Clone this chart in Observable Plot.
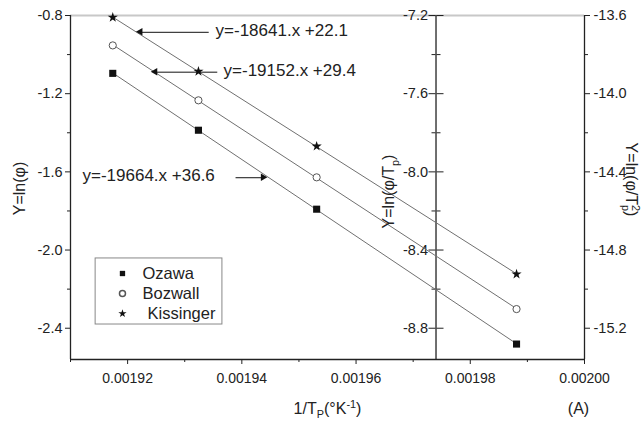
<!DOCTYPE html>
<html>
<head>
<meta charset="utf-8">
<script src="https://cdn.jsdelivr.net/npm/d3@7"></script>
<script src="https://cdn.jsdelivr.net/npm/@observablehq/plot@0.6"></script>
<style>
  html, body { margin: 0; padding: 0; background: #fff; }
  #chart { width: 643px; height: 421px; }
</style>
</head>
<body>
<div id="chart"></div>
<script>
// ---- data ----
const invTp      = [0.0019174, 0.0019324, 0.0019531, 0.0019881];   // 1/Tp (°K^-1)
const ozawa      = [-1.096, -1.387, -1.791, -2.481];              // ln(phi)          (left axis)
const bozwall    = [-7.353, -7.634, -8.028, -8.702];              // ln(phi/Tp)       (middle axis)
const kissinger  = [-13.610, -13.886, -14.269, -14.923];          // ln(phi/Tp^2)     (right axis)
const seriesNames = ["Ozawa", "Bozwall", "Kissinger"];

// axes
const xDomain = [0.00191, 0.00200];
const xMajor = [0.00192, 0.00194, 0.00196, 0.00198, 0.00200];
const xMinor = [0.00191, 0.00193, 0.00195, 0.00197, 0.00199];
const xMiddleAxis = 0.001974;
const yLeftDomain = [-2.56, -0.8];
const yMajor = [-0.8, -1.2, -1.6, -2.0, -2.4];
const yMinor = [-1.0, -1.4, -1.8, -2.2];
const midTop = -7.2;     // middle axis value at the top
const rightTop = -13.6;  // right axis value at the top

// annotations (fit equations)
const eqTexts = ["y=-18641.x +22.1", "y=-19152.x +29.4", "y=-19664.x +36.6"];
const eqX = [0.0019354, 0.0019368, 0.0019121];
const eqY = [-0.877, -1.081, -1.619];
const arrowFromX = [0.0019342, 0.0019357, 0.0019389];
const arrowToX   = [0.0019223, 0.0019249, 0.0019438];
const arrowY     = [-0.886, -1.090, -1.630];

// legend
const legendBox = {x1: 0.0019144, x2: 0.0019366, y1: -2.043, y2: -2.381};
const legendMarkX = 0.0019191;
const legendTextX = [0.0019226, 0.0019226, 0.0019235];
const legendY = [-2.120, -2.222, -2.325];

// ---- build table ----
const offMid = yMajor[0] - midTop;      // 6.4
const offRight = yMajor[0] - rightTop;  // 12.8
const rows = [];
invTp.forEach((x, i) => {
  rows.push({x, y: ozawa[i], s: seriesNames[0]});
  rows.push({x, y: bozwall[i] + offMid, s: seriesNames[1]});
  rows.push({x, y: kissinger[i] + offRight, s: seriesNames[2]});
});
const bySeries = n => rows.filter(r => r.s === n);
const eqs = eqTexts.map((t, i) => ({t, x: eqX[i], y: eqY[i], x1: arrowFromX[i], x2: arrowToX[i], ay: arrowY[i],
  rot: arrowToX[i] < arrowFromX[i] ? -90 : 90, dx: arrowToX[i] < arrowFromX[i] ? 3 : -3}));
const legend = seriesNames.map((n, i) => ({n, y: legendY[i], tx: legendTextX[i]}));

const fmt = d => d.toFixed(1);
const ink = "#222";
const FONT = "Liberation Sans, Arial, Helvetica, sans-serif";

const chart = Plot.plot({
  width: 643,
  height: 421,
  marginTop: 15,
  marginRight: 59,
  marginBottom: 62,
  marginLeft: 70,
  style: {fontFamily: FONT, fontSize: "14px", color: ink, background: "#fff"},
  x: {domain: xDomain},
  y: {domain: yLeftDomain},
  marks: [
    // frame lines
    Plot.ruleY([yLeftDomain[1]], {stroke: "#c8c8c8", strokeWidth: 2}),
    Plot.ruleY([yLeftDomain[0]], {stroke: ink, strokeWidth: 1.3}),
    Plot.ruleX([xDomain[0], xMiddleAxis, xDomain[1]], {stroke: ink, strokeWidth: 1.3}),

    // x axis
    Plot.axisX({ticks: xMajor, tickFormat: d3.format(".5f"), tickSize: 5, tickPadding: 9, label: null, stroke: ink, fill: ink, fontSize: 14}),
    Plot.axisX({ticks: xMinor, tickSize: 3, fill: "none", label: null, stroke: ink}),

    // left y axis
    Plot.axisY({ticks: yMajor, tickFormat: fmt, tickSize: 5, tickPadding: 3, label: null, stroke: ink, fill: ink, fontSize: 14.5}),
    Plot.axisY({ticks: yMinor, tickSize: 3, fill: "none", label: null, stroke: ink}),

    // middle y axis
    Plot.axisY({x: xMiddleAxis, anchor: "left", ticks: yMajor, tickFormat: d => fmt(d - offMid), tickSize: 7, tickPadding: 1, label: null, stroke: ink, fill: ink, fontSize: 14.5}),
    Plot.axisY({x: xMiddleAxis, anchor: "right", ticks: yMajor, tickSize: 7, fill: "none", label: null, stroke: ink}),
    Plot.axisY({x: xMiddleAxis, anchor: "left", ticks: yMinor, tickSize: 4, fill: "none", label: null, stroke: ink}),
    Plot.axisY({x: xMiddleAxis, anchor: "right", ticks: yMinor, tickSize: 4, fill: "none", label: null, stroke: ink}),

    // right y axis
    Plot.axisY({anchor: "right", ticks: yMajor, tickFormat: d => fmt(d - offRight), tickSize: 5, tickPadding: 4, label: null, stroke: ink, fill: ink, fontSize: 14.5}),
    Plot.axisY({anchor: "right", ticks: yMinor, tickSize: 3, fill: "none", label: null, stroke: ink}),

    // fitted lines
    Plot.linearRegressionY(rows, {x: "x", y: "y", z: "s", stroke: "#707070", strokeWidth: 1, ci: 0}),

    // points
    Plot.dot(bySeries("Ozawa"), {x: "x", y: "y", symbol: "square", r: 4, fill: "#111", stroke: "none"}),
    Plot.dot(bySeries("Bozwall"), {x: "x", y: "y", symbol: "circle", r: 3.6, fill: "#fff", stroke: "#555", strokeWidth: 1}),
    Plot.dot(bySeries("Kissinger"), {x: "x", y: "y", symbol: "star", r: 3.2, fill: "#111", stroke: "none"}),

    // equation annotations
    Plot.link(eqs, {x1: "x1", x2: "x2", y1: "ay", y2: "ay", stroke: "#111", strokeWidth: 1}),
    Plot.dot(eqs, {x: "x2", y: "ay", symbol: "triangle", r: 2.8, rotate: "rot", dx: "dx", fill: "#111", stroke: "none"}),
    Plot.text(eqs, {x: "x", y: "y", text: "t", textAnchor: "start", fontSize: 17, fill: ink}),

    // legend
    Plot.rect([legendBox], {x1: "x1", x2: "x2", y1: "y1", y2: "y2", fill: "none", stroke: "#888", strokeWidth: 1}),
    Plot.dot([legend[0]], {x: legendMarkX, y: "y", symbol: "square", r: 3, fill: "#111", stroke: "none"}),
    Plot.dot([legend[1]], {x: legendMarkX, y: "y", symbol: "circle", r: 3, fill: "#fff", stroke: "#555"}),
    Plot.dot([legend[2]], {x: legendMarkX, y: "y", symbol: "star", r: 2.6, fill: "#111", stroke: "none"}),
    Plot.text(legend, {x: "tx", y: "y", text: "n", textAnchor: "start", fontSize: 16.5, fill: ink}),

    // axis titles
    Plot.text(["1/T{_P}(°K{^-1})"], {frameAnchor: "bottom", dy: 49, textAnchor: "middle", lineAnchor: "middle", fontSize: 16, fill: ink}),
    Plot.text(["(A)"], {frameAnchor: "bottom-right", dx: -6, dy: 49, textAnchor: "middle", lineAnchor: "middle", fontSize: 16, fill: ink}),
    Plot.text(["Y=ln(φ)"], {frameAnchor: "left", dx: -51, dy: 1, rotate: -90, textAnchor: "middle", lineAnchor: "middle", fontSize: 16, fill: ink}),
    Plot.text(["Y=ln(φ/T{_p})"], {x: xMiddleAxis, frameAnchor: "middle", dx: -47, dy: 4, rotate: -90, textAnchor: "middle", lineAnchor: "middle", fontSize: 16, fill: ink}),
    Plot.text(["Y=ln(φ/T{^2}{_p})"], {frameAnchor: "right", dx: 47, dy: -8, rotate: 90, textAnchor: "middle", lineAnchor: "middle", fontSize: 16, fill: ink})
  ]
});

document.getElementById("chart").appendChild(chart);

// render sub/superscripts in titles as tspans
function richify(el) {
  const str = el.textContent;
  if (!str.includes("{")) return;
  const fs = parseFloat(el.getAttribute("font-size") || getComputedStyle(el).fontSize) || 16;
  const parts = str.split(/(\{[_^][^}]*\})/).filter(s => s);
  el.textContent = "";
  let shift = 0, prev = null, prevSup = false;
  const NS = "http://www.w3.org/2000/svg";
  for (const p of parts) {
    const ts = document.createElementNS(NS, "tspan");
    let target = 0, text = p, small = false, kind = "n";
    if (p.startsWith("{_")) { target = 0.3 * fs; text = p.slice(2, -1); small = true; kind = "sub"; }
    else if (p.startsWith("{^")) { target = -0.33 * fs; text = p.slice(2, -1); small = true; kind = "sup"; }
    ts.textContent = text;
    if (small) ts.setAttribute("font-size", (0.68 * fs) + "px");
    const dy = target - shift;
    if (dy !== 0) ts.setAttribute("dy", dy + "px");
    if (kind === "sub" && prevSup && prev) ts.setAttribute("dx", (-prev.getComputedTextLength()) + "px");
    el.appendChild(ts);
    shift = target;
    prevSup = kind === "sup";
    prev = ts;
  }
}
d3.select(chart).selectAll("text").each(function () { richify(this); });
</script>
</body>
</html>
